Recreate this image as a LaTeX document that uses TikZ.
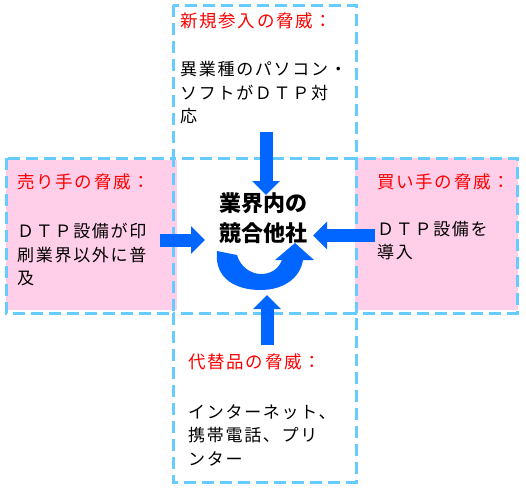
\documentclass[tikz,border=0pt]{standalone}
\usepackage{fontspec}
\newfontfamily\jp{Noto Sans CJK JP}
\newfontfamily\jpwide[LetterSpace=10]{Noto Sans CJK JP}
\usetikzlibrary{arrows.meta}
\definecolor{dashblue}{HTML}{66CCFF}
\definecolor{arrowblue}{HTML}{0066FF}
\definecolor{pinkfill}{HTML}{FFCEE8}
\definecolor{threatred}{HTML}{FF0000}
\tikzset{
  x=1pt, y=1pt,
  zone/.style={draw=dashblue, line width=3pt, dash pattern=on 12pt off 6pt},
  title/.style={text=threatred, font=\jpwide\fontsize{17.5}{24}\selectfont, inner sep=0pt, anchor=north west, align=left},
  body/.style={text=black, font=\jpwide\fontsize{17}{23.5}\selectfont, inner sep=0pt, anchor=north west, align=left},
  force/.style={draw=arrowblue, line width=13pt, -{Triangle[width=27pt,length=14pt]}}
}
\begin{document}
\begin{tikzpicture}
\useasboundingbox (0,0) rectangle (526,-488);
% pink fills
\fill[pinkfill] (6,-160) rectangle (177,-310);
\fill[pinkfill] (355,-158) rectangle (518,-310);
% dashed zones
\draw[zone] (173,-5) rectangle (356,-158);
\draw[zone] (6,-158) rectangle (173,-313);
\draw[zone] (356,-158) rectangle (517,-313);
\draw[zone] (173,-313) rectangle (356,-482);
% texts
\node[title] (tTop) at (180,-13) {新規参入の脅威：};
\node[body] (bTop) at (180,-61) {異業種のパソコン・\\ソフトがＤＴＰ対\\応};
\node[title] (tLeft) at (17,-174) {売り手の脅威：};
\node[body] (bLeft) at (17,-223) {ＤＴＰ設備が印\\刷業界以外に普\\及};
\node[title] (tRight) at (377,-174) {買い手の脅威：};
\node[body] (bRight) at (377,-221) {ＤＴＰ設備を\\導入};
\node[title] (tBottom) at (188,-354) {代替品の脅威：};
\node[body] (bBottom) at (188,-404) {インターネット、\\携帯電話、プリ\\ンター};
\node[font=\jp\bfseries\fontsize{22}{30}\selectfont, inner sep=0pt, align=center] (center) at (263,-218) {業界内の\\競合他社};
% arrow anchors
\coordinate (topS) at (266,-132);
\coordinate (topE) at (266,-195);
\coordinate (leftS) at (160,-240);
\coordinate (leftE) at (205,-240);
\coordinate (rightS) at (375,-235.5);
\coordinate (rightE) at (313,-235.5);
\coordinate (botS) at (267,-345);
\coordinate (botE) at (267,-295);
\draw[force] (topS) -- (topE);
\draw[force] (leftS) -- (leftE);
\draw[force] (rightS) -- (rightE);
\draw[force] (botS) -- (botE);
% U-turn arrow
\fill[arrowblue] (217,-251) .. controls (214,-280) and (238,-290) .. (260,-290)
  .. controls (284,-290) and (300,-278) .. (303,-260) -- (314,-260) -- (295,-243)
  -- (275,-260) -- (282,-260) .. controls (278,-270) and (270,-274) .. (261,-274)
  .. controls (250,-274) and (240,-266) .. (237,-255) -- cycle;
\end{tikzpicture}
\end{document}
